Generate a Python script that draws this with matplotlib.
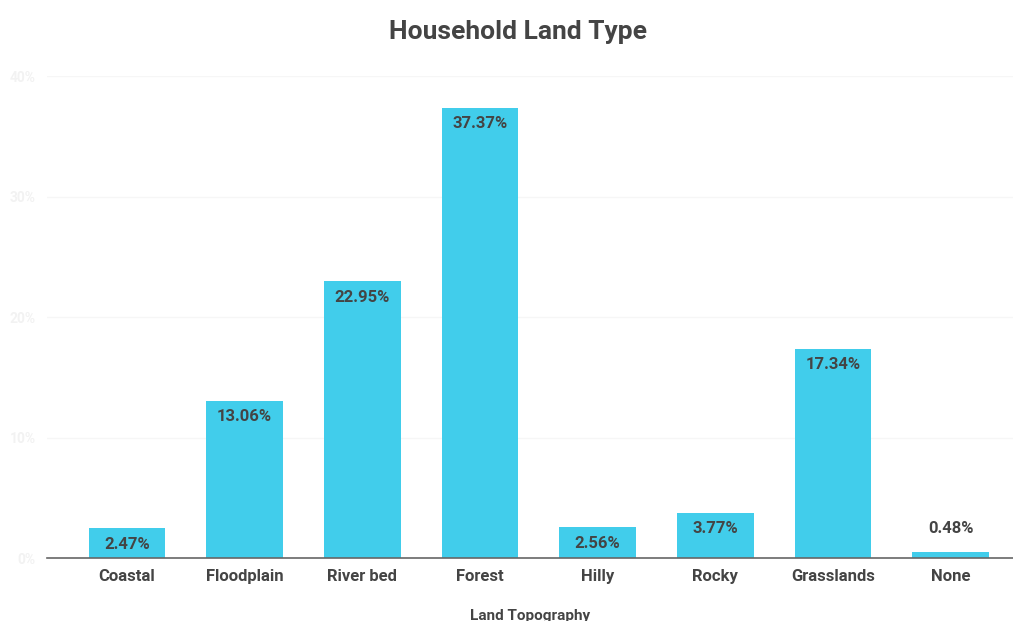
import matplotlib.pyplot as plt

categories = ['Coastal', 'Floodplain', 'River bed', 'Forest', 'Hilly', 'Rocky', 'Grasslands', 'None']
values = [2.47, 13.06, 22.95, 37.37, 2.56, 3.77, 17.34, 0.48]
yticks = [0, 10, 20, 30, 40]

plt.rcParams['font.family'] = ['Roboto', 'DejaVu Sans']
bar_color = '#41cdeb'
text_color = '#444444'

fig = plt.figure(figsize=(10.13, 6.21), dpi=100)
ax = fig.add_axes([0.0464, 0.1014, 0.9536, 0.7762])

bars = ax.bar(range(len(categories)), values, width=0.65, color=bar_color, zorder=2)

# labels inside the bar top, or above if bar too short
for i, v in enumerate(values):
    if v > 1.5:
        ax.annotate(f'{v:.2f}%', (i, v), xytext=(0, -6), textcoords='offset points',
                    ha='center', va='top', fontsize=12, fontweight='bold', color=text_color)
    else:
        ax.annotate(f'{v:.2f}%', (i, v), xytext=(0, 12), textcoords='offset points',
                    ha='center', va='bottom', fontsize=12, fontweight='bold', color=text_color)

ax.set_xlim(-0.68, 7.53)
ax.set_ylim(0, 40)
ax.set_yticks(yticks)
ax.set_yticklabels([f'{t}%' for t in yticks], fontsize=10, fontweight='bold', color='#f2f2f2')
ax.set_xticks(range(len(categories)))
ax.set_xticklabels(categories, fontsize=12, fontweight='bold', color=text_color)
ax.tick_params(axis='both', length=0)
ax.tick_params(axis='x', pad=8)
ax.tick_params(axis='y', pad=8)
ax.grid(axis='y', color='#f6f6f6', linewidth=1, zorder=0)

for s in ['top', 'right', 'left']:
    ax.spines[s].set_visible(False)
ax.spines['bottom'].set_color('#666666')
ax.spines['bottom'].set_linewidth(1.2)
ax.spines['bottom'].set_zorder(3)

ax.set_xlabel('Land Topography', fontsize=11, fontweight='bold', color=text_color, labelpad=18)
fig.suptitle('Household Land Type', x=0.511, y=0.968, fontsize=19, fontweight='bold', color=text_color)

fig.savefig('out.png', dpi=100, facecolor='white')
